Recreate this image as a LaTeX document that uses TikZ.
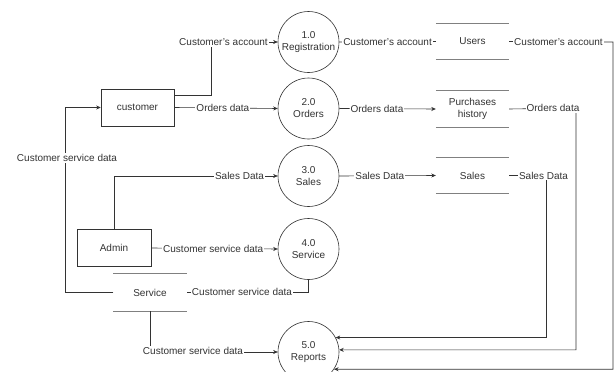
\documentclass[tikz,border=0pt]{standalone}
\usepackage{fontspec}
\setmainfont{Liberation Sans}
\usetikzlibrary{arrows.meta}
\definecolor{ln}{HTML}{333333}
\definecolor{st}{HTML}{808080}
\definecolor{tx}{HTML}{333333}
\begin{document}
\begin{tikzpicture}[x=1pt,y=-1pt,
  every node/.style={font=\fontsize{10}{12}\selectfont, text=tx},
  proc/.style={circle, draw=ln, line width=0.6pt, minimum size=61pt, inner sep=0pt, align=center},
  ent/.style={rectangle, draw=ln, line width=0.6pt, minimum width=73pt, minimum height=37pt, inner sep=0pt},
  store/.style={minimum width=73pt, minimum height=36pt, inner sep=0pt, align=center},
  lab/.style={fill=white, inner sep=1pt},
  conn/.style={draw=ln, line width=0.6pt},
  arr/.style={conn, -{Stealth[length=4.5pt,width=4pt]}}
]
\clip (0,0) rectangle (614,372);
\fill[white] (0,0) rectangle (614,372);

% processes
\node[proc] (p1) at (308.5,42) {1.0\\Registration};
\node[proc] (p2) at (308.5,108.5) {2.0\\Orders};
\node[proc] (p3) at (308.5,176) {3.0\\Sales};
\node[proc] (p4) at (308.5,249) {4.0\\Service};
\node[proc] (p5) at (308.5,352) {5.0\\Reports};

% entities
\node[ent] (cust) at (137.5,107.5) {customer};
\node[ent, minimum width=74pt] (admin) at (114,248) {Admin};

% data stores
\node[store] (users) at (472.5,41.5) {Users};
\node[store] (ph) at (472.5,109) {Purchases\\history};
\node[store] (sales) at (472.5,175.5) {Sales};
\node[store, minimum height=37pt] (serv) at (150,292.5) {Service};
\foreach \s in {users,ph,sales,serv}{
  \draw[st, line width=0.8pt] (\s.north west) -- (\s.north east);
  \draw[st, line width=1.1pt] (\s.south west) -- (\s.south east);
}

% corner coordinates
\coordinate (c1) at (211,95);
\coordinate (c3) at (613,42);
\coordinate (c6) at (576,108);
\coordinate (c7) at (546,175.5);
\coordinate (c12) at (65,292.5);

% connectors
\draw[arr] ([yshift=12.5pt]cust.east) -- (c1) |- (p1.west)
  node[lab] at (223.5,42) {Customer's account};
\draw[conn] (p1.east) -- node[lab] {Customer's account} (users.west);
\draw[arr] (users.east) -- (c3) |- (p5.-34)
  node[lab] at (558.5,42) {Customer's account};

\draw[arr] (cust.east) -- node[lab, pos=0.47] {Orders data} (p2.west);
\draw[arr] (p2.east) -- node[lab, pos=0.39] {Orders data} (ph.west);
\draw[arr] (ph.east) -- (c6) |- (p5.4)
  node[lab] at (553,108) {Orders data};

\draw[arr] (admin.north) |- (p3.west)
  node[lab] at (239.5,176) {Sales Data};
\draw[arr] (p3.east) -- node[lab, pos=0.42] {Sales Data} (sales.west);
\draw[arr] (sales.east) -- (c7) |- (p5.28)
  node[lab] at (543.5,175.5) {Sales Data};

\draw[arr] (admin.east) -- node[lab, pos=0.49] {Customer service data} (p4.west);
\draw[conn] (p4.south) |- (serv.east)
  node[lab] at (242,291.5) {Customer service data};
\draw[arr] (serv.west) -- (c12) |- (cust.west)
  node[lab] at (67,158) {Customer service data};
\draw[arr] (serv.south) |- (p5.west)
  node[lab] at (193,351) {Customer service data};
\end{tikzpicture}
\end{document}
